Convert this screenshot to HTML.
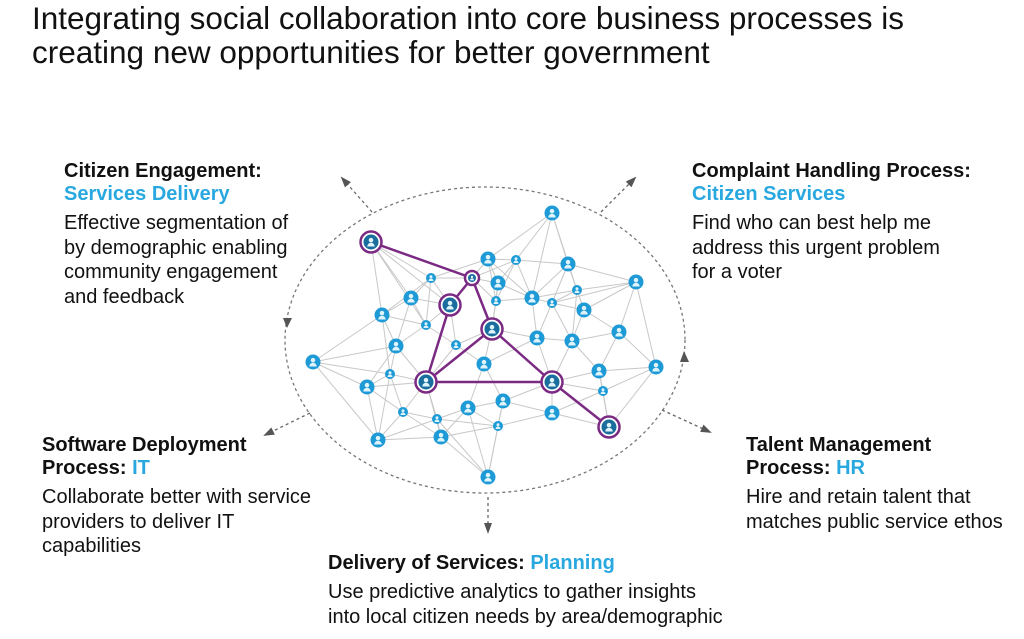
<!DOCTYPE html>
<html><head><meta charset="utf-8"><style>
body{margin:0;width:1024px;height:639px;background:#fff;position:relative;overflow:hidden;font-family:"Liberation Sans",Arial,sans-serif;color:#111}
.t{position:absolute;left:32px;top:1px;font-size:31.5px;line-height:34px;}
.b{position:absolute;font-size:20px;line-height:24.5px;white-space:nowrap;margin-top:2px}
.h{font-weight:bold;line-height:23px;margin-bottom:5px}
.c{color:#29a8e0}
svg{position:absolute;left:0;top:0}
</style></head><body>
<div class="t">Integrating social collaboration into core business processes is<br>creating new opportunities for better government</div>
<div class="b" style="left:64px;top:158px"><div class="h">Citizen Engagement:<br><span class="c">Services Delivery</span></div>Effective segmentation of<br>by demographic enabling<br>community engagement<br>and feedback</div>
<div class="b" style="left:692px;top:158px"><div class="h">Complaint Handling Process:<br><span class="c">Citizen Services</span></div>Find who can best help me<br>address this urgent problem<br>for a voter</div>
<div class="b" style="left:42px;top:432px"><div class="h">Software Deployment<br>Process: <span class="c">IT</span></div>Collaborate better with service<br>providers to deliver IT<br>capabilities</div>
<div class="b" style="left:746px;top:432px"><div class="h">Talent Management<br>Process: <span class="c">HR</span></div>Hire and retain talent that<br>matches public service ethos</div>
<div class="b" style="left:328px;top:550px"><div class="h">Delivery of Services: <span class="c">Planning</span></div>Use predictive analytics to gather insights<br>into local citizen needs by area/demographic</div>
<svg id="s" width="1024" height="639"></svg>
<script>
var big=[[552,213],[488,259],[568,264],[498,283],[636,282],[411,298],[532,298],[382,315],[584,310],[396,346],[537,338],[572,341],[619,332],[313,362],[484,364],[599,371],[656,367],[367,387],[503,401],[468,408],[552,413],[378,440],[441,437],[488,477]];
var sm=[[516,260],[431,278],[577,290],[496,301],[552,303],[426,325],[456,345],[390,374],[603,391],[403,412],[437,419],[498,426]];
var pu=[[371,242],[472,278],[450,305],[492,329],[426,382],[552,382],[609,427]];
var all=big.concat(sm).concat(pu);
var h='<ellipse cx="485" cy="340" rx="200" ry="153" fill="none" stroke="#777" stroke-width="1.3" stroke-dasharray="3,3"/>';
function ar(x1,y1,x2,y2){var a=Math.atan2(y2-y1,x2-x1),l=9,w=4;h+='<line x1="'+x1+'" y1="'+y1+'" x2="'+x2+'" y2="'+y2+'" stroke="#666" stroke-width="1.3" stroke-dasharray="3,3"/>';
var bx=x2-l*Math.cos(a),by=y2-l*Math.sin(a);h+='<polygon points="'+(x2+2*Math.cos(a))+','+(y2+2*Math.sin(a))+' '+(bx-w*Math.sin(a))+','+(by+w*Math.cos(a))+' '+(bx+w*Math.sin(a))+','+(by-w*Math.cos(a))+'" fill="#555"/>';}
ar(372,212,342,178);ar(601,212,635,178);ar(310,413,265,435);ar(662,410,710,432);ar(488,497,488,532);
h+='<polygon points="283,318 292,318 287,328" fill="#555"/><polygon points="680,362 689,362 684,351" fill="#555"/>';
var seen={};
all.forEach(function(p,i){var d=all.map(function(q,j){return [Math.hypot(p[0]-q[0],p[1]-q[1]),j]}).sort(function(a,b){return a[0]-b[0]});
for(var k=1;k<=5;k++){var j=d[k][1],key=Math.min(i,j)+'_'+Math.max(i,j);if(!seen[key]){seen[key]=1;h+='<line x1="'+p[0]+'" y1="'+p[1]+'" x2="'+all[j][0]+'" y2="'+all[j][1]+'" stroke="#c8c8c8" stroke-width="1"/>';}}});
var pe=[[0,1],[1,2],[1,3],[2,4],[3,4],[3,5],[4,5],[5,6]];
pe.forEach(function(e){var a=pu[e[0]],b=pu[e[1]];h+='<line x1="'+a[0]+'" y1="'+a[1]+'" x2="'+b[0]+'" y2="'+b[1]+'" stroke="#7b2a83" stroke-width="2.5"/>';});
function node(x,y,r,c){h+='<circle cx="'+x+'" cy="'+y+'" r="'+r+'" fill="'+c+'"/><circle cx="'+x+'" cy="'+(y-r*0.25)+'" r="'+r*0.3+'" fill="#dff3fb"/><path d="M'+(x-r*0.5)+','+(y+r*0.6)+' a'+r*0.5+','+r*0.5+' 0 0 1 '+r+',0z" fill="#dff3fb"/>';}
big.forEach(function(p){node(p[0],p[1],7.5,'#1e9ad6')});
sm.forEach(function(p){node(p[0],p[1],5,'#1e9ad6')});
pu.forEach(function(p,i){var r=i==1?7:10.5;h+='<circle cx="'+p[0]+'" cy="'+p[1]+'" r="'+r+'" fill="#fff" stroke="#7b2a83" stroke-width="2.5"/>';node(p[0],p[1],r-3,'#1a6e9e');});
document.getElementById('s').innerHTML=h;
</script>
</body></html>
